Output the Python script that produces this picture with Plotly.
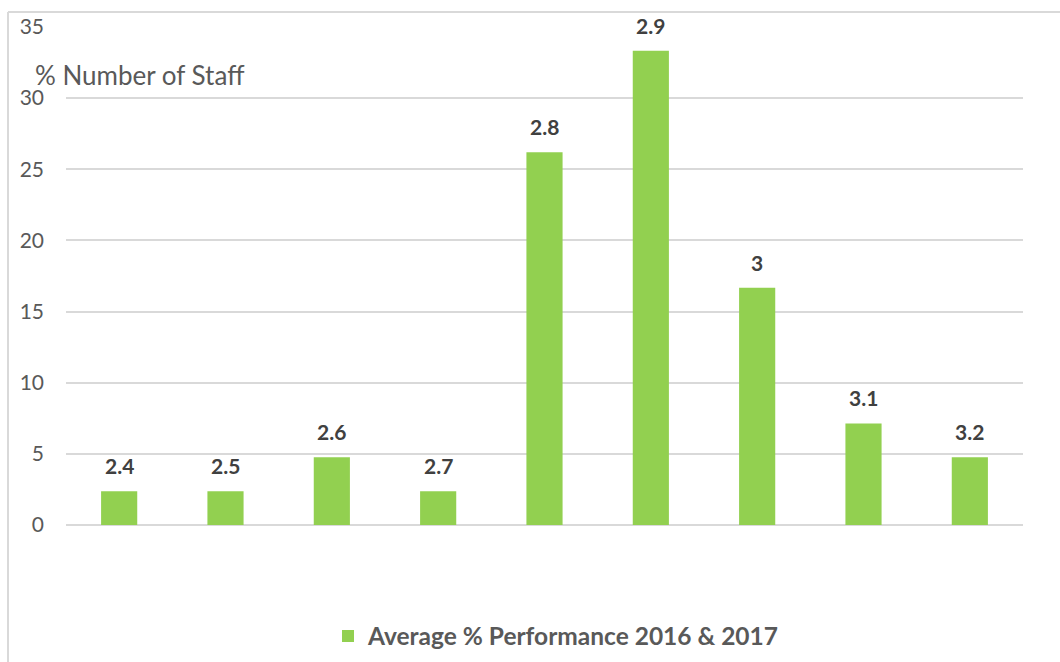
import plotly.graph_objects as go

# Average performance score bands and share of staff in each band (%)
scores = ["2.4", "2.5", "2.6", "2.7", "2.8", "2.9", "3", "3.1", "3.2"]
staff_pct = [2.38, 2.38, 4.76, 2.38, 26.19, 33.33, 16.67, 7.14, 4.76]
series_name = "Average % Performance 2016 & 2017"
y_ticks = [0, 5, 10, 15, 20, 25, 30, 35]

FONT = "Lato"
GREEN = "#92D050"
GREY = "#595959"
DARK = "#404040"
GRID = "#D9D9D9"

# plot area in pixels
L, R, T, B = 66, 37, 27, 137
W, H = 1060, 662
PW, PH = W - L - R, H - T - B


def px_x(x):
    return (x - L) / PW


def px_y(y):
    return 1 - (y - T) / PH


fig = go.Figure()
fig.add_trace(go.Bar(
    x=list(range(len(scores))),
    y=staff_pct,
    name="<b>" + series_name + "</b>",
    marker=dict(color=GREEN, line=dict(width=0)),
    width=0.34,
    hovertext=scores,
    hoverinfo="text+y",
))

# score labels sitting above each bar
for i, (s, v) in enumerate(zip(scores, staff_pct)):
    fig.add_annotation(
        x=i, y=v, xref="x", yref="y",
        text="<b>%s</b>" % s,
        showarrow=False, yanchor="bottom", yshift=11,
        font=dict(family=FONT, size=21, color=DARK),
    )

# axis caption written horizontally inside the plot
fig.add_annotation(
    x=px_x(33), y=px_y(75), xref="paper", yref="paper",
    text="% Number of Staff", showarrow=False,
    xanchor="left", yanchor="middle",
    font=dict(family=FONT, size=26, color=GREY),
)

fig.update_layout(
    width=W, height=H,
    margin=dict(l=L, r=R, t=T, b=B, autoexpand=False),
    paper_bgcolor="white", plot_bgcolor="white",
    showlegend=True,
    legend=dict(
        orientation="h", x=px_x(556), xanchor="center",
        y=px_y(636), yanchor="middle",
        font=dict(family=FONT, size=24.5, color=GREY),
        itemwidth=30,
    ),
    xaxis=dict(
        range=[-0.5, len(scores) - 0.5],
        showticklabels=False, showgrid=False, zeroline=False,
        showline=False, ticks="", fixedrange=True,
    ),
    yaxis=dict(
        range=[0, 35], tickvals=y_ticks,
        showgrid=True, gridcolor=GRID, gridwidth=1.5,
        zeroline=True, zerolinecolor=GRID, zerolinewidth=1.5,
        showline=False, ticks="",
        tickfont=dict(family=FONT, size=21, color=GREY),
        ticklabelstandoff=21,
    ),
    font=dict(family=FONT),
)

# chart frame: left and top edges
fig.add_shape(type="line", xref="paper", yref="paper",
              x0=px_x(8), x1=px_x(8), y0=px_y(12), y1=px_y(H),
              line=dict(color=GRID, width=2))
fig.add_shape(type="line", xref="paper", yref="paper",
              x0=px_x(8), x1=px_x(W), y0=px_y(12), y1=px_y(12),
              line=dict(color=GRID, width=2))

fig.write_html("out.html")
